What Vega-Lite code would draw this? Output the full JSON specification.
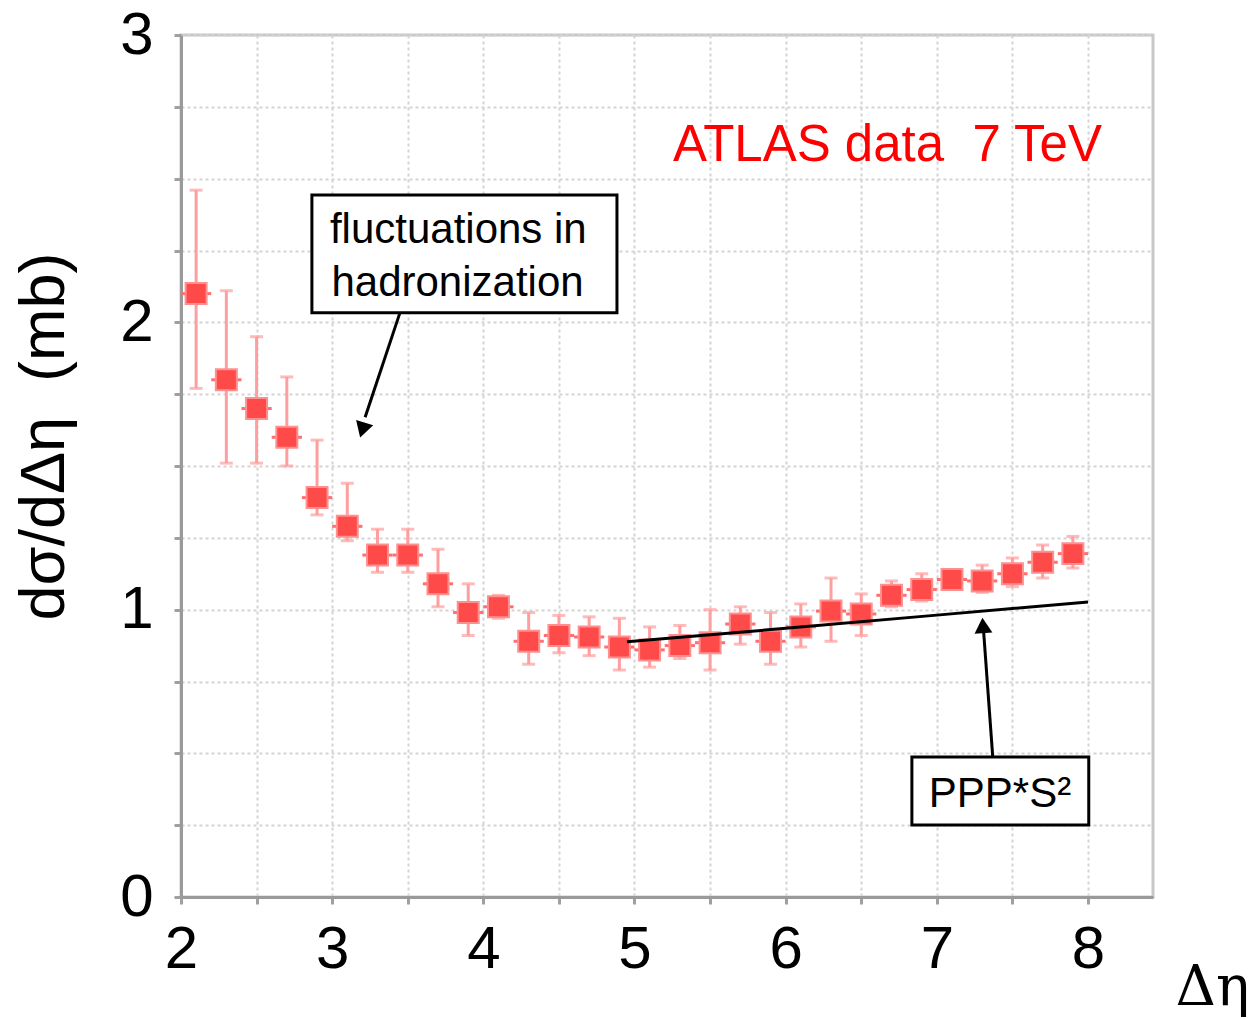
{
  "$schema": "https://vega.github.io/schema/vega-lite/v6.json",
  "autosize": "none",
  "width": 972,
  "height": 862,
  "padding": {"left": 181, "top": 35, "right": 100, "bottom": 122},
  "background": "white",
  "config": {
    "view": {"stroke": "#c8c8c8", "strokeWidth": 3},
    "axis": {
      "domainColor": "#9a9a9a", "domainWidth": 3,
      "tickColor": "#a0a0a0", "tickWidth": 3, "tickSize": 7,
      "gridColor": "#d4d4d4", "gridDash": [3, 3], "gridWidth": 2,
      "labelFont": "Liberation Sans", "labelFontWeight": "normal", "labelColor": "black",
      "labelFlush": false,
      "titleColor": "black"
    }
  },
  "datasets": {
    "pts": [
      {"x": 2.1, "y": 2.10, "lo": 1.77, "hi": 2.46, "xlo": 2.0, "xhi": 2.2},
      {"x": 2.3, "y": 1.80, "lo": 1.51, "hi": 2.11, "xlo": 2.2, "xhi": 2.4},
      {"x": 2.5, "y": 1.70, "lo": 1.51, "hi": 1.95, "xlo": 2.4, "xhi": 2.6},
      {"x": 2.7, "y": 1.60, "lo": 1.50, "hi": 1.81, "xlo": 2.6, "xhi": 2.8},
      {"x": 2.9, "y": 1.39, "lo": 1.33, "hi": 1.59, "xlo": 2.8, "xhi": 3.0},
      {"x": 3.1, "y": 1.29, "lo": 1.24, "hi": 1.44, "xlo": 3.0, "xhi": 3.2},
      {"x": 3.3, "y": 1.19, "lo": 1.13, "hi": 1.28, "xlo": 3.2, "xhi": 3.4},
      {"x": 3.5, "y": 1.19, "lo": 1.13, "hi": 1.28, "xlo": 3.4, "xhi": 3.6},
      {"x": 3.7, "y": 1.09, "lo": 1.01, "hi": 1.21, "xlo": 3.6, "xhi": 3.8},
      {"x": 3.9, "y": 0.99, "lo": 0.91, "hi": 1.09, "xlo": 3.8, "xhi": 4.0},
      {"x": 4.1, "y": 1.01, "lo": 0.97, "hi": 1.05, "xlo": 4.0, "xhi": 4.2},
      {"x": 4.3, "y": 0.89, "lo": 0.81, "hi": 0.99, "xlo": 4.2, "xhi": 4.4},
      {"x": 4.5, "y": 0.91, "lo": 0.85, "hi": 0.98, "xlo": 4.4, "xhi": 4.6},
      {"x": 4.7, "y": 0.905, "lo": 0.84, "hi": 0.975, "xlo": 4.6, "xhi": 4.8},
      {"x": 4.9, "y": 0.87, "lo": 0.79, "hi": 0.97, "xlo": 4.8, "xhi": 5.0},
      {"x": 5.1, "y": 0.86, "lo": 0.80, "hi": 0.94, "xlo": 5.0, "xhi": 5.2},
      {"x": 5.3, "y": 0.875, "lo": 0.83, "hi": 0.945, "xlo": 5.2, "xhi": 5.4},
      {"x": 5.5, "y": 0.885, "lo": 0.79, "hi": 1.00, "xlo": 5.4, "xhi": 5.6},
      {"x": 5.7, "y": 0.95, "lo": 0.88, "hi": 1.01, "xlo": 5.6, "xhi": 5.8},
      {"x": 5.9, "y": 0.89, "lo": 0.81, "hi": 0.99, "xlo": 5.8, "xhi": 6.0},
      {"x": 6.1, "y": 0.94, "lo": 0.87, "hi": 1.02, "xlo": 6.0, "xhi": 6.2},
      {"x": 6.3, "y": 0.995, "lo": 0.89, "hi": 1.11, "xlo": 6.2, "xhi": 6.4},
      {"x": 6.5, "y": 0.985, "lo": 0.91, "hi": 1.055, "xlo": 6.4, "xhi": 6.6},
      {"x": 6.7, "y": 1.05, "lo": 1.01, "hi": 1.10, "xlo": 6.6, "xhi": 6.8},
      {"x": 6.9, "y": 1.07, "lo": 1.03, "hi": 1.125, "xlo": 6.8, "xhi": 7.0},
      {"x": 7.1, "y": 1.105, "lo": 1.085, "hi": 1.125, "xlo": 7.0, "xhi": 7.2},
      {"x": 7.3, "y": 1.10, "lo": 1.06, "hi": 1.155, "xlo": 7.2, "xhi": 7.4},
      {"x": 7.5, "y": 1.125, "lo": 1.08, "hi": 1.18, "xlo": 7.4, "xhi": 7.6},
      {"x": 7.7, "y": 1.165, "lo": 1.11, "hi": 1.225, "xlo": 7.6, "xhi": 7.8},
      {"x": 7.9, "y": 1.195, "lo": 1.145, "hi": 1.255, "xlo": 7.8, "xhi": 8.0}
    ],
    "ppp": [
      {"x": 4.95, "y": 0.888},
      {"x": 6.0, "y": 0.935},
      {"x": 7.0, "y": 0.981},
      {"x": 8.0, "y": 1.027}
    ],
    "boxes": [
      {"x": 2.866, "x2": 4.884, "y": 2.443, "y2": 2.033},
      {"x": 6.835, "x2": 8.005, "y": 0.487, "y2": 0.251}
    ],
    "labels": [
      {"x": 2.985, "y": 2.276, "text": "fluctuations in"},
      {"x": 2.995, "y": 2.092, "text": "hadronization"},
      {"x": 6.947, "y": 0.313, "text": "PPP*S²"}
    ],
    "atlas": [
      {"x": 5.254, "y": 2.562, "text": "ATLAS data\u00a0\u00a07 TeV"}
    ],
    "arrows": [
      {"x": 3.448, "y": 2.033, "x2": 3.218, "y2": 1.67},
      {"x": 7.37, "y": 0.487, "x2": 7.31, "y2": 0.92}
    ],
    "head1": [{"x": 3.20, "y": 1.625}],
    "head2": [{"x": 7.305, "y": 0.945}]
  },
  "layer": [
    {
      "data": {"name": "pts"},
      "mark": {"type": "rule", "color": "#ff9e9e", "strokeWidth": 3},
      "encoding": {
        "x": {
          "field": "x", "type": "quantitative",
          "scale": {"domain": [2, 8.43], "nice": false, "zero": false},
          "axis": {
            "title": "Δη",
            "values": [2, 2.5, 3, 3.5, 4, 4.5, 5, 5.5, 6, 6.5, 7, 7.5, 8],
            "labelExpr": "datum.value % 1 === 0 ? format(datum.value, 'd') : ''",
            "labelFontSize": 60, "labelPadding": 16, "labelDx": 3,
            "titleFont": "DejaVu Serif", "titleFontSize": 56, "titleFontWeight": "normal",
            "titleAlign": "left", "titleBaseline": "alphabetic",
            "titleX": 994, "titleY": 107
          }
        },
        "y": {
          "field": "lo", "type": "quantitative",
          "scale": {"domain": [0, 3], "nice": false, "zero": false},
          "axis": {
            "title": "dσ/dΔη\u00a0\u00a0(mb)",
            "values": [0, 0.25, 0.5, 0.75, 1, 1.25, 1.5, 1.75, 2, 2.25, 2.5, 2.75, 3],
            "labelExpr": "datum.value % 1 === 0 ? format(datum.value, 'd') : ''",
            "labelFontSize": 60, "labelPadding": 21,
            "titleFont": "Liberation Sans", "titleFontSize": 63, "titleFontWeight": "normal",
            "titleAngle": -90, "titleAlign": "center", "titleBaseline": "alphabetic",
            "titleX": -118, "titleY": 401
          }
        },
        "y2": {"field": "hi"}
      }
    },
    {
      "data": {"name": "pts"},
      "mark": {"type": "tick", "orient": "horizontal", "color": "#ff9e9e", "thickness": 3, "size": 13},
      "encoding": {
        "x": {"field": "x", "type": "quantitative"},
        "y": {"field": "lo", "type": "quantitative"}
      }
    },
    {
      "data": {"name": "pts"},
      "mark": {"type": "tick", "orient": "horizontal", "color": "#ff9e9e", "thickness": 3, "size": 13},
      "encoding": {
        "x": {"field": "x", "type": "quantitative"},
        "y": {"field": "hi", "type": "quantitative"}
      }
    },
    {
      "data": {"name": "pts"},
      "mark": {"type": "rule", "color": "#ff6f6f", "strokeWidth": 3},
      "encoding": {
        "x": {"field": "xlo", "type": "quantitative"},
        "x2": {"field": "xhi"},
        "y": {"field": "y", "type": "quantitative"}
      }
    },
    {
      "data": {"name": "pts"},
      "mark": {"type": "point", "shape": "square", "filled": true, "size": 440, "color": "#ff4a4a", "opacity": 1, "stroke": "#ff9090", "strokeWidth": 2},
      "encoding": {
        "x": {"field": "x", "type": "quantitative"},
        "y": {"field": "y", "type": "quantitative"}
      }
    },
    {
      "data": {"name": "ppp"},
      "mark": {"type": "line", "color": "black", "strokeWidth": 3},
      "encoding": {
        "x": {"field": "x", "type": "quantitative"},
        "y": {"field": "y", "type": "quantitative"}
      }
    },
    {
      "data": {"name": "boxes"},
      "mark": {"type": "rect", "fill": "white", "stroke": "black", "strokeWidth": 3},
      "encoding": {
        "x": {"field": "x", "type": "quantitative"},
        "x2": {"field": "x2"},
        "y": {"field": "y", "type": "quantitative"},
        "y2": {"field": "y2"}
      }
    },
    {
      "data": {"name": "labels"},
      "mark": {"type": "text", "align": "left", "baseline": "alphabetic", "font": "Liberation Sans", "fontSize": 42, "color": "black"},
      "encoding": {
        "x": {"field": "x", "type": "quantitative"},
        "y": {"field": "y", "type": "quantitative"},
        "text": {"field": "text"}
      }
    },
    {
      "data": {"name": "atlas"},
      "mark": {"type": "text", "align": "left", "baseline": "alphabetic", "font": "Liberation Sans", "fontSize": 51, "color": "#ff0000"},
      "encoding": {
        "x": {"field": "x", "type": "quantitative"},
        "y": {"field": "y", "type": "quantitative"},
        "text": {"field": "text"}
      }
    },
    {
      "data": {"name": "arrows"},
      "mark": {"type": "rule", "color": "black", "strokeWidth": 3},
      "encoding": {
        "x": {"field": "x", "type": "quantitative"},
        "y": {"field": "y", "type": "quantitative"},
        "x2": {"field": "x2"},
        "y2": {"field": "y2"}
      }
    },
    {
      "data": {"name": "head1"},
      "mark": {"type": "point", "shape": "triangle-up", "filled": true, "color": "black", "opacity": 1, "size": 320, "angle": 197},
      "encoding": {
        "x": {"field": "x", "type": "quantitative"},
        "y": {"field": "y", "type": "quantitative"}
      }
    },
    {
      "data": {"name": "head2"},
      "mark": {"type": "point", "shape": "triangle-up", "filled": true, "color": "black", "opacity": 1, "size": 320, "angle": 356},
      "encoding": {
        "x": {"field": "x", "type": "quantitative"},
        "y": {"field": "y", "type": "quantitative"}
      }
    }
  ]
}
